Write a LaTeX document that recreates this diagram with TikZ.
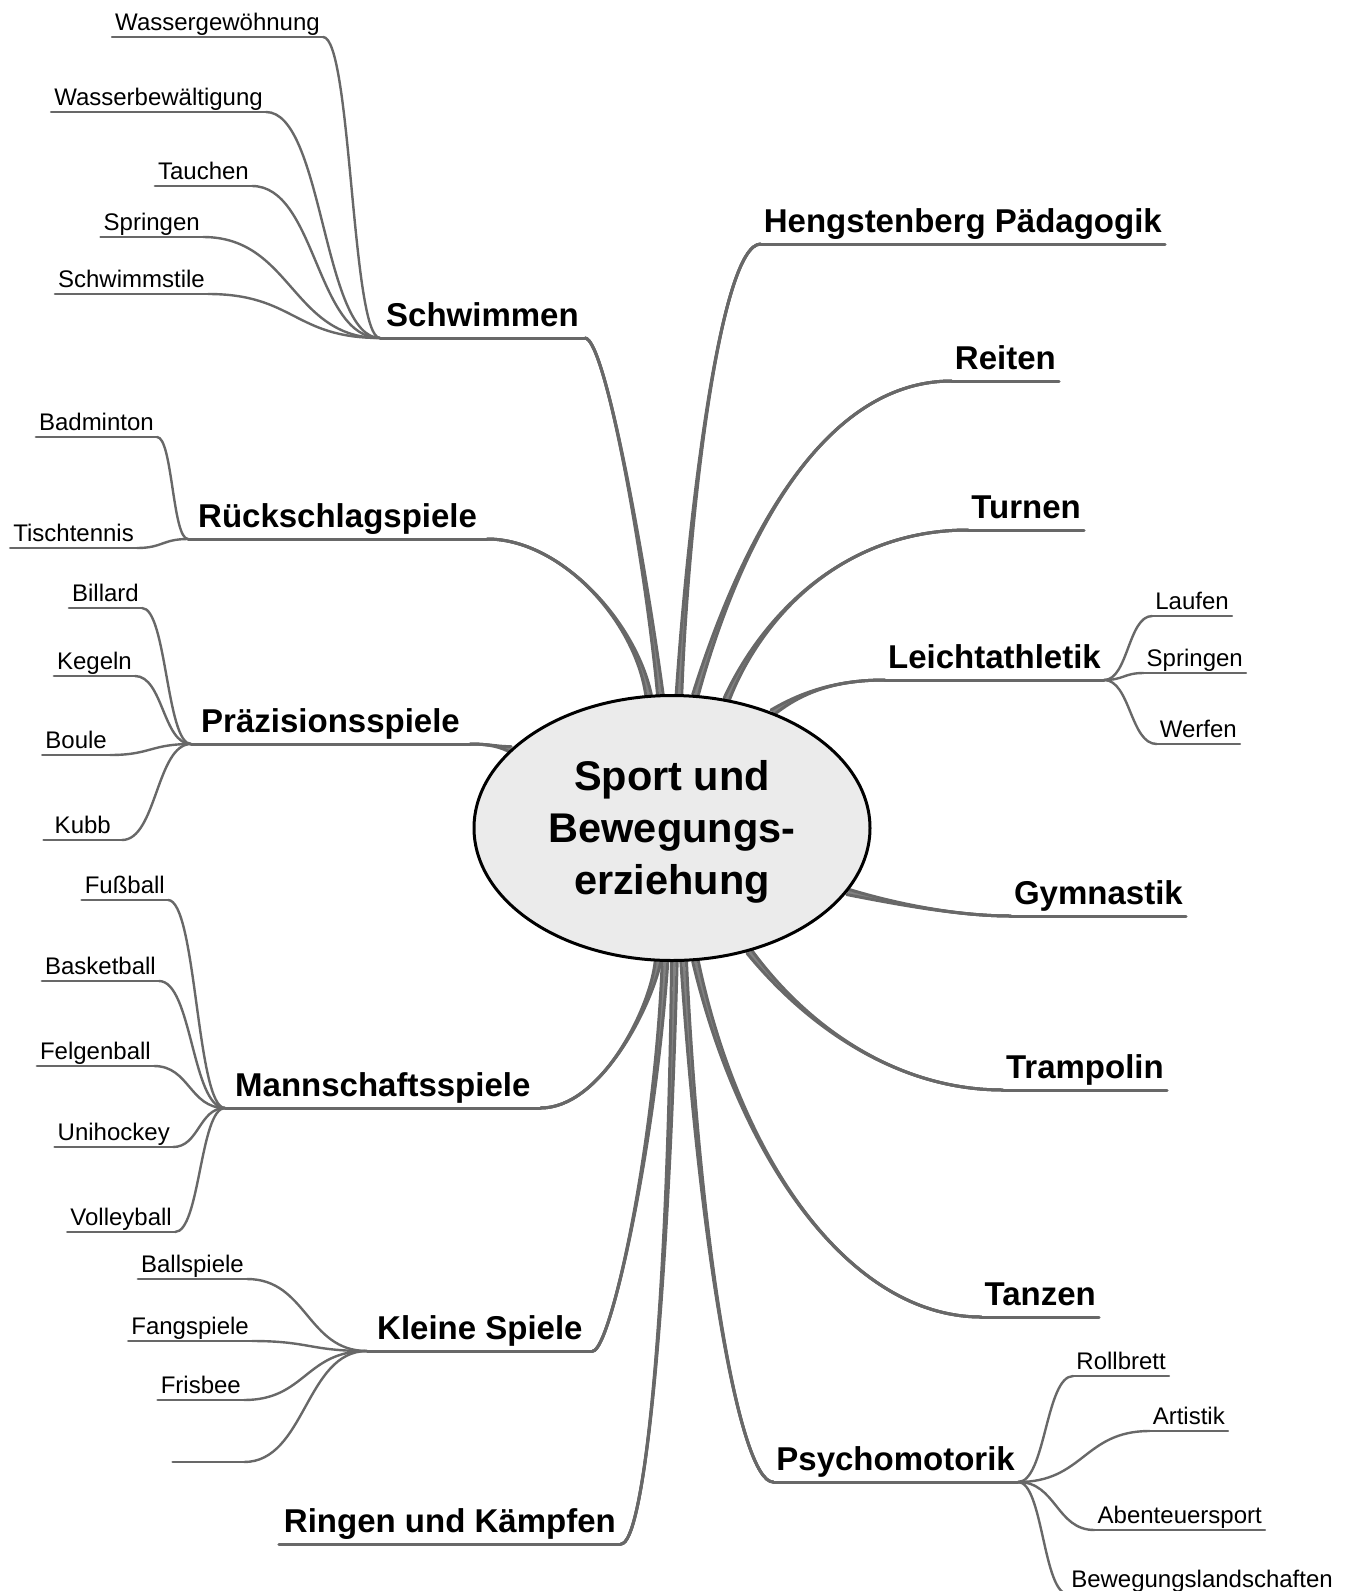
\documentclass[tikz,border=0pt]{standalone}
\usepackage{fontspec}
\setmainfont{Liberation Sans}
\usetikzlibrary{calc, backgrounds, shapes.geometric}

\definecolor{branch}{RGB}{104,104,104}
\definecolor{branchlight}{RGB}{130,130,130}
\definecolor{hubfill}{RGB}{235,235,235}

% thick branch from the hub: a light core and two dark strands, so that it tapers
\newcommand\trunk[4]{%
  \draw[trunkline, draw=branchlight] (sport.#1) .. controls #2 and #3 .. (#4);
  \foreach \r in {90,-90}
    \draw[trunkline] ($(sport.#1)!2.8pt!\r:#2$) .. controls #2 and #3 .. (#4);}
% thin s-shaped branch between two label lines
\newcommand\twig[2]{%
  \draw[twig] let \p1=(#1), \p2=(#2) in
    (\p1) .. controls ({(\x1+\x2)/2},\y1) and ({(\x1+\x2)/2},\y2) .. (\p2);}

\begin{document}
\begin{tikzpicture}[
    x=1pt, y=-1pt,
    hub/.style={ellipse, draw=black, line width=3pt, fill=hubfill,
                minimum width=396pt, minimum height=265pt, inner sep=0pt,
                align=center, font=\fontsize{41.5}{52}\selectfont\bfseries},
    topic/.style={font=\fontsize{33}{40}\selectfont\bfseries, inner ysep=0pt,
                  text height=24pt, text depth=11.5pt},
    topicL/.style={topic, inner xsep=10pt},
    topicR/.style={topic, inner xsep=3pt, anchor=south east},
    leaf/.style={font=\fontsize{24}{29}\selectfont, inner xsep=3pt, inner ysep=0pt,
                 text height=17pt, text depth=6pt, anchor=south east},
    trunkline/.style={draw=branch, line width=3pt, line cap=round},
    stem/.style={draw=branch, line width=3pt, line cap=round},
    twig/.style={draw=branch, line width=2.4pt, line cap=round}
  ]
  \useasboundingbox (0,0) rectangle (1352,1591);

  \node[hub] (sport) at (672,828) {\rule{0pt}{38pt}Sport und\\Bewegungs-\\erziehung};

  % left topics
  \node[topicL, anchor=south west, inner xsep=6pt] (schwimmen) at (380,338) {Schwimmen};
  \node[topicL, anchor=south west] (rueckschlag) at (188,539) {Rückschlagspiele};
  \node[topicL, anchor=south west] (praezision) at (191,744) {Präzisionsspiele};
  \node[topicL, anchor=south west] (mannschaft) at (225,1108) {Mannschaftsspiele};
  \node[topicL, anchor=south west] (kleine) at (367,1351) {Kleine Spiele};
  \node[topicL, anchor=south east, inner xsep=5pt] (ringen) at (621,1544) {Ringen und Kämpfen};

  % right topics
  \node[topicR] (hengstenberg) at (1165,244) {Hengstenberg Pädagogik};
  \node[topicR] (reiten) at (1059,381) {Reiten};
  \node[topicR] (turnen) at (1084,530) {Turnen};
  \node[topicR] (leicht) at (1104,680) {Leichtathletik};
  \node[topicR] (gymnastik) at (1186,916) {Gymnastik};
  \node[topicR] (trampolin) at (1167,1090) {Trampolin};
  \node[topicR] (tanzen) at (1099,1317) {Tanzen};
  \node[topicR] (psycho) at (1018,1482) {Psychomotorik};

  % leaves
  \node[leaf] (wasserge) at (323,37) {Wassergewöhnung};
  \node[leaf] (wasserbe) at (266,112) {Wasserbewältigung};
  \node[leaf] (tauchen) at (252,186) {Tauchen};
  \node[leaf] (springenS) at (203,237) {Springen};
  \node[leaf] (schwimmstile) at (208,294) {Schwimmstile};
  \node[leaf] (badminton) at (157,437) {Badminton};
  \node[leaf] (tischtennis) at (137,548) {Tischtennis};
  \node[leaf] (billard) at (142,608) {Billard};
  \node[leaf] (kegeln) at (135,676) {Kegeln};
  \node[leaf] (boule) at (110,755) {Boule};
  \node[leaf, inner xsep=11pt] (kubb) at (122,840) {Kubb};
  \node[leaf] (fussball) at (168,900) {Fußball};
  \node[leaf] (basketball) at (159,981) {Basketball};
  \node[leaf] (felgenball) at (154,1066) {Felgenball};
  \node[leaf] (unihockey) at (173,1147) {Unihockey};
  \node[leaf] (volleyball) at (175,1232) {Volleyball};
  \node[leaf] (ballspiele) at (247,1279) {Ballspiele};
  \node[leaf] (fangspiele) at (252,1341) {Fangspiele};
  \node[leaf] (frisbee) at (244,1400) {Frisbee};
  \node[leaf, minimum width=71pt] (blank) at (244,1462) {};
  \node[leaf] (laufen) at (1232,616) {Laufen};
  \node[leaf] (springenL) at (1246,673) {Springen};
  \node[leaf] (werfen) at (1240,744) {Werfen};
  \node[leaf] (rollbrett) at (1169,1376) {Rollbrett};
  \node[leaf] (artistik) at (1228,1431) {Artistik};
  \node[leaf] (abenteuer) at (1265,1530) {Abenteuersport};
  \node[leaf] (landschaft) at (1336,1594) {Bewegungslandschaften};

  \begin{scope}[on background layer]
    \trunk{95}{(645,560)}{(605,338)}{schwimmen.south east}
    \trunk{100}{(635,620)}{(560,539)}{rueckschlag.south east}
    \trunk{154}{(500,747)}{(490,744)}{praezision.south east}
    \trunk{-96}{(650,1010)}{(600,1108)}{mannschaft.south east}
    \trunk{-93}{(655,1150)}{(610,1351)}{kleine.south east}
    \trunk{-89}{(668,1300)}{(645,1544)}{ringen.south east}
    \trunk{87}{(688,520)}{(720,244)}{hengstenberg.south west}
    \trunk{80}{(735,560)}{(815,381)}{reiten.south west}
    \trunk{67}{(760,620)}{(840,530)}{turnen.south west}
    \trunk{49}{(805,690)}{(840,680)}{leicht.south west}
    \trunk{-20}{(900,905)}{(960,916)}{gymnastik.south west}
    \trunk{-58}{(810,1030)}{(900,1090)}{trampolin.south west}
    \trunk{-80}{(740,1160)}{(850,1317)}{tanzen.south west}
    \trunk{-85}{(700,1250)}{(740,1482)}{psycho.south west}

    \foreach \n in {schwimmen, rueckschlag, praezision, mannschaft, kleine, ringen,
                    hengstenberg, reiten, turnen, leicht, gymnastik, trampolin,
                    tanzen, psycho}
      \draw[stem] (\n.south west) -- (\n.south east);

    \foreach \n in {wasserge, wasserbe, tauchen, springenS, schwimmstile, badminton,
                    tischtennis, billard, kegeln, boule, kubb, fussball, basketball,
                    felgenball, unihockey, volleyball, ballspiele, fangspiele, frisbee,
                    blank, laufen, springenL, werfen, rollbrett, artistik, abenteuer,
                    landschaft}
      \draw[twig] (\n.south west) -- (\n.south east);

    \foreach \l/\t in {wasserge/schwimmen, wasserbe/schwimmen, tauchen/schwimmen,
                       springenS/schwimmen, schwimmstile/schwimmen,
                       badminton/rueckschlag, tischtennis/rueckschlag,
                       billard/praezision, kegeln/praezision, boule/praezision,
                       kubb/praezision, fussball/mannschaft, basketball/mannschaft,
                       felgenball/mannschaft, unihockey/mannschaft,
                       volleyball/mannschaft, ballspiele/kleine, fangspiele/kleine,
                       frisbee/kleine, blank/kleine}
      \twig{\l.south east}{\t.south west};

    \foreach \t/\l in {leicht/laufen, leicht/springenL, leicht/werfen,
                       psycho/rollbrett, psycho/artistik, psycho/abenteuer,
                       psycho/landschaft}
      \twig{\t.south east}{\l.south west};
  \end{scope}
\end{tikzpicture}
\end{document}
